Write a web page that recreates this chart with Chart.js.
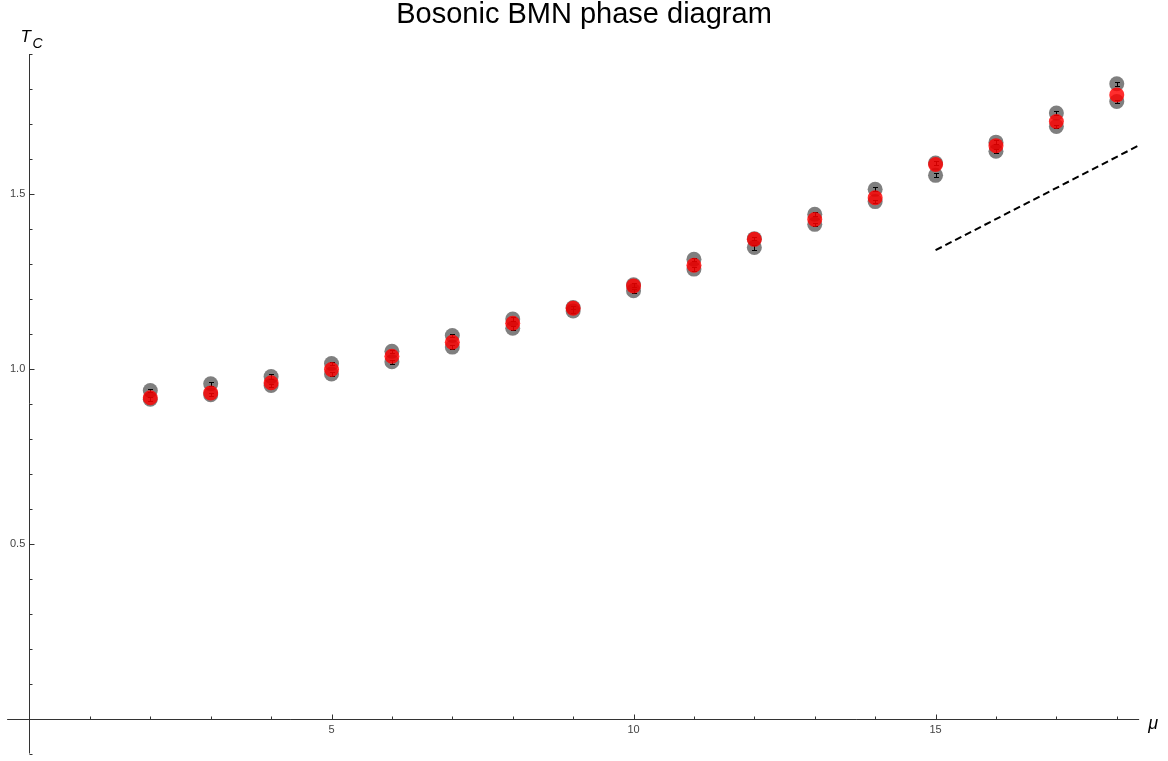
<!DOCTYPE html>
<html>
<head>
<meta charset="utf-8">
<script src="https://cdn.jsdelivr.net/npm/chart.js@4.4.1/dist/chart.umd.min.js"></script>
<style>
  html, body { margin: 0; padding: 0; background: #ffffff; }
  #wrap { width: 1168px; height: 761px; }
</style>
</head>
<body>
<div id="wrap"><canvas id="c" width="1168" height="761"></canvas></div>
<script>
// ---- data ----
const mu = [2, 3, 4, 5, 6, 7, 8, 9, 10, 11, 12, 13, 14, 15, 16, 17, 18];
const tcGrayUpper = [0.938, 0.957, 0.978, 1.015, 1.050, 1.095, 1.142, 1.175, 1.240, 1.313, 1.372, 1.442, 1.513, 1.588, 1.648, 1.731, 1.815];
const tcGrayLower = [0.913, 0.926, 0.952, 0.985, 1.020, 1.062, 1.116, 1.165, 1.223, 1.285, 1.347, 1.413, 1.478, 1.553, 1.622, 1.693, 1.764];
const tcRed       = [0.917, 0.931, 0.960, 0.998, 1.036, 1.076, 1.130, 1.173, 1.237, 1.296, 1.370, 1.427, 1.489, 1.584, 1.638, 1.707, 1.783];
const errGrayUpper = [0.005, 0.006, 0.006, 0.005, 0.005, 0.005, 0.005, 0.005, 0.005, 0.005, 0.005, 0.005, 0.006, 0.005, 0.005, 0.006, 0.006];
const errGrayLower = [0.005, 0.005, 0.005, 0.005, 0.005, 0.005, 0.005, 0.005, 0.005, 0.005, 0.006, 0.005, 0.005, 0.006, 0.005, 0.005, 0.005];
const asymptoteMu = [15, 18.37];
const asymptoteTc = [1.339, 1.639];
const xTickLabels = ['5', '10', '15'];
const yTickLabels = ['0.5', '1.0', '1.5'];
const xAxisExtent = [-0.37, 18.37];
const titleText = 'Bosonic BMN phase diagram';

const toPts = (xs, ys) => xs.map((x, i) => ({ x: x, y: ys[i] }));

const FONT = "'Liberation Sans', Arial, sans-serif";

function fmtTick(v, dec) { return (Math.round(v * 10) / 10).toFixed(dec); }

const axesPlugin = {
  id: 'mmaAxes',
  beforeDatasetsDraw(chart) {
    const ctx = chart.ctx, xs = chart.scales.x, ys = chart.scales.y, a = chart.chartArea;
    const x0 = Math.round(xs.getPixelForValue(0)) + 0.5;
    const y0 = Math.round(ys.getPixelForValue(0)) + 0.5;
    ctx.save();
    ctx.strokeStyle = '#333';
    ctx.lineWidth = 1;
    ctx.beginPath();
    ctx.moveTo(xs.getPixelForValue(xAxisExtent[0]), y0);
    ctx.lineTo(xs.getPixelForValue(xAxisExtent[1]), y0);
    ctx.moveTo(x0, a.top); ctx.lineTo(x0, a.bottom);
    ctx.stroke();
    ctx.beginPath();
    xs.ticks.forEach(t => {
      if (t.value < 0 || t.value > xAxisExtent[1]) return;
      const lbl = String(Math.round(t.value));
      const major = xTickLabels.includes(lbl);
      const px = Math.round(xs.getPixelForValue(t.value)) + 0.5;
      ctx.moveTo(px, y0); ctx.lineTo(px, y0 - (major ? 5 : 3));
    });
    ys.ticks.forEach(t => {
      const lbl = fmtTick(t.value, 1);
      if (lbl === '0.0' || lbl === '-0.0') return;
      const major = yTickLabels.includes(lbl);
      const py = Math.round(ys.getPixelForValue(t.value)) + 0.5;
      ctx.moveTo(x0, py); ctx.lineTo(x0 + (major ? 5 : 3), py);
    });
    ctx.stroke();
    ctx.restore();
  },
  afterDatasetDraw(chart, args) {
    const ds = chart.data.datasets[args.index];
    if (!ds.errors) return;
    const ctx = chart.ctx, xs = chart.scales.x, ys = chart.scales.y;
    ctx.save();
    ctx.strokeStyle = '#000';
    ctx.lineWidth = 1;
    ctx.beginPath();
    ds.data.forEach((p, i) => {
      const e = ds.errors[i];
      const px = Math.round(xs.getPixelForValue(p.x)) + 0.5;
      const y1 = Math.round(ys.getPixelForValue(p.y + e)) + 0.5;
      const y2 = Math.round(ys.getPixelForValue(p.y - e)) + 0.5;
      ctx.moveTo(px, y1); ctx.lineTo(px, y2);
      ctx.moveTo(px - 2.5, y1); ctx.lineTo(px + 2.5, y1);
      ctx.moveTo(px - 2.5, y2); ctx.lineTo(px + 2.5, y2);
    });
    ctx.stroke();
    ctx.restore();
  },
  afterDraw(chart) {
    const ctx = chart.ctx, xs = chart.scales.x, ys = chart.scales.y;
    const x0 = xs.getPixelForValue(0);
    const y0 = ys.getPixelForValue(0);
    ctx.save();
    ctx.fillStyle = '#000';
    ctx.textBaseline = 'alphabetic';
    ctx.textAlign = 'left';
    ctx.font = "italic 17px " + FONT;
    ctx.fillText('T', x0 - 9, 42);
    ctx.font = "italic 14px " + FONT;
    ctx.fillText('C', x0 + 3, 48);
    ctx.font = "italic 18px " + FONT;
    ctx.fillText('\u03BC', xs.getPixelForValue(xAxisExtent[1]) + 9, y0 + 10);
    ctx.restore();
  }
};

new Chart(document.getElementById('c'), {
  type: 'scatter',
  data: {
    datasets: [
      {
        label: 'red',
        data: toPts(mu, tcRed),
        backgroundColor: 'rgba(255,0,0,0.82)',
        borderWidth: 0,
        pointRadius: 7.5,
        order: 0
      },
      {
        label: 'gray upper',
        data: toPts(mu, tcGrayUpper),
        errors: errGrayUpper,
        backgroundColor: 'rgba(0,0,0,0.5)',
        borderWidth: 0,
        pointRadius: 7.5,
        order: 1
      },
      {
        label: 'gray lower',
        data: toPts(mu, tcGrayLower),
        errors: errGrayLower,
        backgroundColor: 'rgba(0,0,0,0.5)',
        borderWidth: 0,
        pointRadius: 7.5,
        order: 2
      },
      {
        type: 'line',
        label: 'asymptote',
        data: toPts(asymptoteMu, asymptoteTc),
        borderColor: '#000',
        borderWidth: 2,
        borderDash: [7, 4],
        pointRadius: 0,
        fill: false,
        showLine: true,
        order: 3
      }
    ]
  },
  options: {
    responsive: false,
    animation: false,
    events: [],
    layout: { padding: { left: 18, right: 18, top: 0, bottom: -1 } },
    plugins: {
      legend: { display: false },
      tooltip: { enabled: false },
      title: {
        display: true,
        text: titleText,
        color: '#000',
        font: { family: FONT, size: 29, weight: 'normal', lineHeight: 1 },
        padding: { top: 0, bottom: 25 }
      }
    },
    scales: {
      x: {
        type: 'linear',
        min: -0.19,
        max: 18.55,
        position: { y: 0 },
        grid: { display: false, drawTicks: false },
        border: { display: false },
        ticks: {
          stepSize: 1,
          includeBounds: false,
          autoSkip: false,
          maxRotation: 0,
          padding: 5,
          color: '#444',
          font: { family: FONT, size: 11 },
          callback: (v) => { const s = String(Math.round(v)); return xTickLabels.includes(s) ? s : ''; }
        }
      },
      y: {
        type: 'linear',
        min: -0.1,
        max: 1.9,
        position: { x: -0.07 },
        grid: { display: false, drawTicks: false },
        border: { display: false },
        ticks: {
          stepSize: 0.1,
          includeBounds: false,
          autoSkip: false,
          padding: 0,
          color: '#444',
          font: { family: FONT, size: 11 },
          callback: (v) => { const s = fmtTick(v, 1); return yTickLabels.includes(s) ? s : ''; }
        }
      }
    }
  },
  plugins: [axesPlugin]
});
</script>
</body>
</html>
